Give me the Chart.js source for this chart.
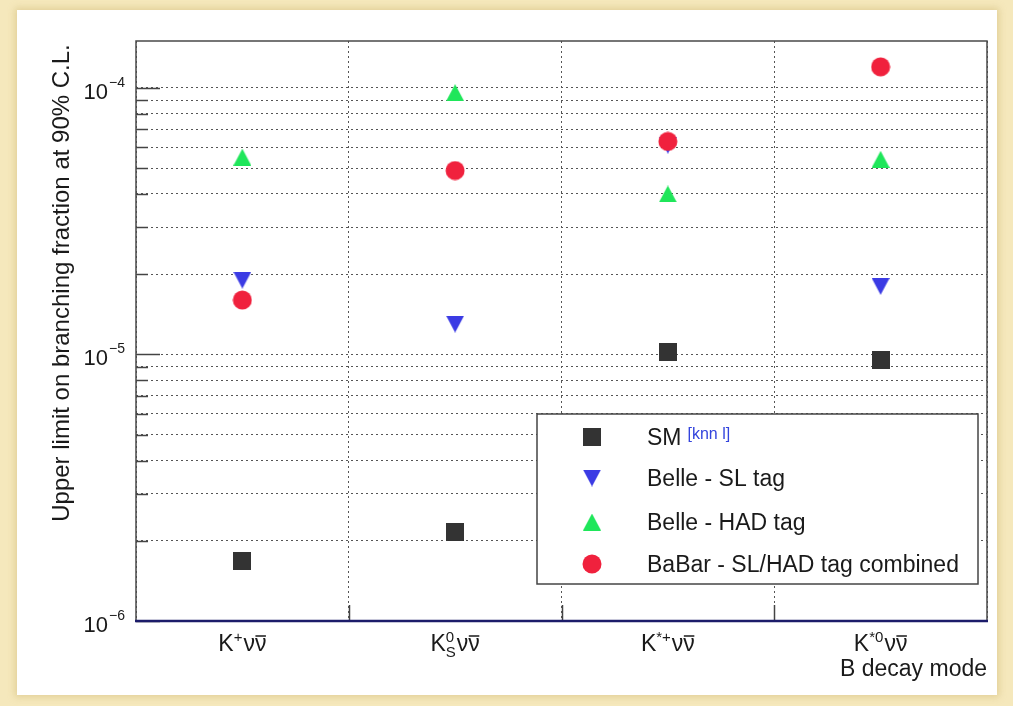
<!DOCTYPE html>
<html>
<head>
<meta charset="utf-8">
<script src="https://cdn.jsdelivr.net/npm/chart.js@4.4.1/dist/chart.umd.min.js"></script>
<style>
  html, body { margin: 0; padding: 0; }
  body { width: 1013px; height: 706px; background: #f5e8bc; position: relative; overflow: hidden; }
  #card { position: absolute; left: 17px; top: 10px; width: 980px; height: 685px; background: #fff;
          box-shadow: 0 0 7px 2px rgba(190, 160, 80, 0.35); }
  #chart { position: absolute; left: 0; top: 0; }
</style>
</head>
<body>
<div id="card"></div>
<canvas id="chart" width="1013" height="706"></canvas>
<script>
// decay modes on the x axis (drawn with sub/superscripts below)
const decayModes = ['K+ νν̄', 'KS0 νν̄', 'K*+ νν̄', 'K*0 νν̄'];
const modeParts = [
  { sup: '+', sub: '' },
  { sup: '0', sub: 'S' },
  { sup: '*+', sub: '' },
  { sup: '*0', sub: '' },
];

// upper limits on the branching fraction (90% C.L.)
const smValues  = [1.68e-6, 2.16e-6, 1.02e-5, 9.5e-6];
const belleSL   = [1.9e-5, 1.3e-5, 6.1e-5, 1.8e-5];
const belleHAD  = [5.5e-5, 9.6e-5, 4.0e-5, 5.4e-5];
const babarComb = [1.6e-5, 4.9e-5, 6.3e-5, 1.2e-4];

const seriesNames = ['SM', 'Belle - SL tag', 'Belle - HAD tag', 'BaBar - SL/HAD tag combined'];

// y axis: decades with labels, minor grid at 2..9 x decade
const yDecades = [1e-6, 1e-5, 1e-4];
const yDecadeExp = ['\u22126', '\u22125', '\u22124'];
const yMinorMantissas = [2, 3, 4, 5, 6, 7, 8, 9];

const FONT = "'Liberation Sans', Arial, Helvetica, sans-serif";
const COLORS = { sm: '#333333', sl: '#3b3be4', had: '#1fe65a', babar: '#f0213d' };

const yGrid = [];
yDecades.forEach(d => {
  yGrid.push(d);
  if (d < 1e-4) yMinorMantissas.forEach(m => yGrid.push(m * d));
});

function marker(kind, color) {
  const c = document.createElement('canvas');
  const w = kind === 'circle' ? 20 : 18;
  const h = kind.startsWith('tri') ? 17 : w;
  c.width = w; c.height = h;
  const g = c.getContext('2d');
  g.fillStyle = color;
  g.beginPath();
  if (kind === 'square') g.rect(0, 0, w, h);
  else if (kind === 'circle') g.arc(w / 2, h / 2, 9.5, 0, Math.PI * 2);
  else if (kind === 'triUp') { g.moveTo(w / 2, 0); g.lineTo(w, h); g.lineTo(0, h); }
  else { g.moveTo(0, 0); g.lineTo(w, 0); g.lineTo(w / 2, h); }
  g.closePath();
  g.fill();
  return c;
}

const markers = [
  marker('square', COLORS.sm),
  marker('triDown', COLORS.sl),
  marker('triUp', COLORS.had),
  marker('circle', COLORS.babar),
];

const rootStyle = {
  id: 'rootStyle',
  beforeDatasetsDraw(chart) {
    const { ctx, chartArea: a, scales: { x, y } } = chart;
    ctx.save();
    // y tick marks, drawn inside the frame
    ctx.strokeStyle = '#444';
    ctx.lineWidth = 1.5;
    yGrid.forEach(v => {
      const py = Math.round(y.getPixelForValue(v)) + 0.5;
      const len = yDecades.includes(v) ? 24 : 12;
      ctx.beginPath(); ctx.moveTo(a.left, py); ctx.lineTo(a.left + len, py); ctx.stroke();
    });
    // x tick marks at the category boundaries
    for (let i = 1; i < decayModes.length; i++) {
      const px = Math.round((x.getPixelForValue(i - 1) + x.getPixelForValue(i)) / 2) + 0.5;
      ctx.beginPath(); ctx.moveTo(px, a.bottom); ctx.lineTo(px, a.bottom - 16); ctx.stroke();
    }
    // frame
    ctx.strokeStyle = '#4a4a4a';
    ctx.lineWidth = 1.5;
    ctx.beginPath();
    ctx.moveTo(a.left, a.bottom); ctx.lineTo(a.left, a.top);
    ctx.lineTo(a.right, a.top); ctx.lineTo(a.right, a.bottom);
    ctx.stroke();
    ctx.strokeStyle = '#1c1c6a';
    ctx.lineWidth = 2.5;
    ctx.beginPath(); ctx.moveTo(a.left - 1, a.bottom); ctx.lineTo(a.right + 1, a.bottom); ctx.stroke();
    ctx.restore();
  },
  afterDraw(chart) {
    const { ctx, chartArea: a, scales: { x, y } } = chart;
    ctx.save();
    ctx.fillStyle = '#1a1a1a';
    ctx.textBaseline = 'alphabetic';

    // y tick labels 10^n
    yDecades.forEach((v, i) => {
      const py = y.getPixelForValue(v);
      ctx.font = '22px ' + FONT;
      ctx.textAlign = 'right';
      ctx.fillText('10', 108, py + 11);
      ctx.font = '14px ' + FONT;
      ctx.textAlign = 'left';
      ctx.fillText(yDecadeExp[i], 109, py - 1);
    });

    // y axis title
    ctx.save();
    ctx.translate(69, 283);
    ctx.rotate(-Math.PI / 2);
    ctx.font = '24px ' + FONT;
    ctx.textAlign = 'center';
    ctx.fillText('Upper limit on branching fraction at 90% C.L.', 0, 0);
    ctx.restore();

    // category labels
    ctx.textAlign = 'left';
    const base = 651;
    modeParts.forEach((p, i) => {
      ctx.font = '23px ' + FONT;
      const wK = ctx.measureText('K').width;
      const wNu = ctx.measureText('\u03bd').width;
      ctx.font = '15px ' + FONT;
      const wScript = Math.max(ctx.measureText(p.sup).width, ctx.measureText(p.sub).width);
      const total = wK + wScript + 1 + 2 * wNu;
      let cx = x.getPixelForValue(i) - total / 2;
      ctx.font = '23px ' + FONT;
      ctx.fillText('K', cx, base);
      cx += wK;
      ctx.font = '15px ' + FONT;
      ctx.fillText(p.sup, cx, base - 9);
      if (p.sub) ctx.fillText(p.sub, cx, base + 6);
      cx += wScript + 1;
      ctx.font = '23px ' + FONT;
      ctx.fillText('\u03bd\u03bd', cx, base);
      ctx.strokeStyle = '#1a1a1a';
      ctx.lineWidth = 1.5;
      ctx.beginPath();
      ctx.moveTo(cx + wNu + 0.5, base - 15); ctx.lineTo(cx + 2 * wNu - 0.5, base - 15);
      ctx.stroke();
    });

    // x axis title
    ctx.font = '23px ' + FONT;
    ctx.textAlign = 'right';
    ctx.fillText('B decay mode', a.right, 676);

    // legend box
    const L = { left: 537, top: 414, right: 978, bottom: 584 };
    ctx.fillStyle = '#fff';
    ctx.fillRect(L.left, L.top, L.right - L.left, L.bottom - L.top);
    ctx.strokeStyle = '#444';
    ctx.lineWidth = 1.5;
    ctx.strokeRect(L.left, L.top, L.right - L.left, L.bottom - L.top);
    const rows = [437, 478, 522, 564];
    ctx.textAlign = 'left';
    seriesNames.forEach((name, i) => {
      const m = markers[i];
      ctx.drawImage(m, 592 - m.width / 2, rows[i] - m.height / 2);
      ctx.fillStyle = '#1a1a1a';
      ctx.font = '23px ' + FONT;
      ctx.fillText(name, 647, rows[i] + 8);
      if (i === 0) {
        const w = ctx.measureText(name).width;
        ctx.fillStyle = '#3344dd';
        ctx.font = '16px ' + FONT;
        ctx.fillText('[knn l]', 647 + w + 6, rows[i] + 2);
      }
    });
    ctx.restore();
  },
};

const seriesValues = [smValues, belleSL, belleHAD, babarComb];

new Chart(document.getElementById('chart'), {
  type: 'line',
  data: {
    labels: decayModes,
    datasets: seriesValues.map((vals, i) => ({
      label: seriesNames[i],
      data: vals,
      showLine: false,
      pointStyle: markers[i],
      pointRadius: 10,
      order: 3 - i,
    })),
  },
  options: {
    responsive: false,
    animation: false,
    devicePixelRatio: 1,
    layout: { padding: { top: 41, right: 26, left: 0, bottom: 0 } },
    plugins: { legend: { display: false }, tooltip: { enabled: false } },
    scales: {
      x: {
        type: 'category',
        offset: true,
        afterFit: s => { s.height = 85; },
        ticks: { display: false },
        grid: { offset: true, color: '#555', lineWidth: 1, drawTicks: false },
        border: { display: false, dash: [2, 3] },
      },
      y: {
        type: 'logarithmic',
        min: 1e-6,
        max: 1.5e-4,
        afterFit: s => { s.width = 136; },
        afterBuildTicks: s => { s.ticks = yGrid.map(v => ({ value: v })); },
        ticks: { display: false },
        grid: { color: '#555', lineWidth: 1, drawTicks: false },
        border: { display: false, dash: [2, 3] },
      },
    },
  },
  plugins: [rootStyle],
});
</script>
</body>
</html>
